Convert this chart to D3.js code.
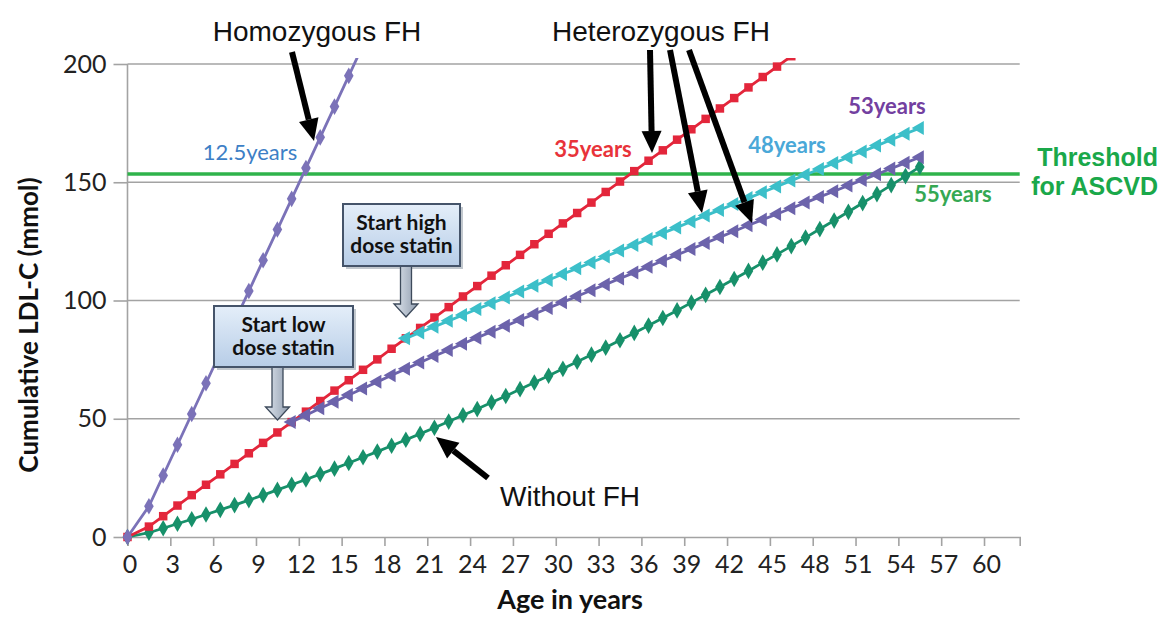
<!DOCTYPE html>
<html><head><meta charset="utf-8">
<script src="https://cdn.jsdelivr.net/npm/d3@7"></script>
<style>body{margin:0;background:#fff}</style>
</head><body>
<svg id="c" width="1160" height="618"></svg>
<script>
// ---------- data ----------
const xTickLabels = [0,3,6,9,12,15,18,21,24,27,30,33,36,39,42,45,48,51,54,57,60];
const yTickLabels = [0,50,100,150,200];
const threshold = 153.5;

// first year (category) of each series; one value per following year
const homoStart = 0;
const homoValues = [0,13,26,39,52,65,78,91,104,117,130,143,156,169,182,195,208];

const heteroStart = 0;
const heteroValues = [0,4.4,8.8,13.3,17.7,22.1,26.5,30.9,35.4,39.8,44.2,48.6,53.0,57.5,61.9,66.3,70.7,75.1,79.6,84.0,88.4,92.8,97.2,101.7,106.1,110.5,114.9,119.3,123.8,128.2,132.6,137.0,141.4,145.9,150.3,154.7,159.1,163.5,168.0,172.4,176.8,181.2,185.6,190.1,194.5,198.9,203.3];

const lowDoseStart = 11;
const lowDoseValues = [48.6,51.5,54.4,57.2,60.0,62.8,65.6,68.4,71.1,73.8,76.5,79.1,81.7,84.3,86.8,89.3,91.8,94.3,96.8,99.3,101.8,104.3,106.8,109.3,111.8,114.3,116.8,119.3,121.8,124.3,126.8,129.3,131.8,134.2,136.6,139.0,141.4,143.8,146.2,148.6,151.0,153.4,155.8,158.2,160.6];

const highDoseStart = 19;
const highDoseValues = [84.0,86.5,88.9,91.4,93.9,96.4,98.8,101.3,103.8,106.2,108.7,111.2,113.6,116.1,118.6,121.1,123.5,126.0,128.5,130.9,133.4,135.9,138.3,140.8,143.3,145.8,148.2,150.7,153.2,155.6,158.1,160.6,163.0,165.5,168.0,170.5,172.9];

const noFHStart = 0;
const noFHValues = [0,1.8,3.7,5.6,7.5,9.5,11.5,13.5,15.6,17.7,19.9,22.1,24.3,26.6,28.9,31.3,33.7,36.1,38.6,41.1,43.6,46.2,48.8,51.5,54.1,56.9,59.6,62.5,65.3,68.2,71.1,74.1,77.1,80.1,83.2,86.3,89.4,92.6,95.8,99.1,102.4,105.7,109.1,112.5,116.0,119.5,123.0,126.6,130.2,133.8,137.5,141.2,145.0,148.8,152.6,156.5];

// ---------- layout ----------
const svg = d3.select("#c");
const x = d3.scaleLinear().domain([0, 62.5]).range([127.5, 1019.7]);
const y = d3.scaleLinear().domain([0, 200]).range([537, 64]);
const tickFont = "Lato, 'Open Sans', sans-serif";
const arial = "'Liberation Sans', Arial, sans-serif";
const gridCol = "#a3a3a3";

// gridlines + y axis ticks
const gy = svg.append("g").attr("transform", `translate(${x(0)},0)`)
  .call(d3.axisLeft(y).tickValues(yTickLabels).tickSize(14).tickPadding(7));
gy.select(".domain").remove();
gy.selectAll(".tick line").attr("stroke", gridCol).attr("stroke-width", 1.6);
gy.selectAll(".tick text").attr("font-family", tickFont).attr("font-size", 25).attr("fill", "#222");
svg.append("g").selectAll("line").data(yTickLabels.filter(d => d > 0)).join("line")
  .attr("x1", x(0)).attr("x2", x(62.5)).attr("y1", d => y(d)).attr("y2", d => y(d))
  .attr("stroke", gridCol).attr("stroke-width", 1.6);
svg.append("line").attr("x1", x(0)).attr("x2", x(0)).attr("y1", y(200)).attr("y2", y(0))
  .attr("stroke", gridCol).attr("stroke-width", 1.6);

// x axis
const gx = svg.append("g").attr("transform", `translate(0,${y(0)})`)
  .call(d3.axisBottom(x).tickValues(xTickLabels).tickSize(9).tickPadding(9).tickFormat(d3.format("d")));
gx.select(".domain").attr("stroke", gridCol).attr("stroke-width", 1.6);
gx.selectAll(".tick line").attr("stroke", gridCol).attr("stroke-width", 1.6);
gx.selectAll(".tick text").attr("font-family", tickFont).attr("font-size", 25).attr("fill", "#222").attr("dx", 2);

// threshold line
svg.append("line").attr("x1", x(0)).attr("x2", x(62.5))
  .attr("y1", y(threshold)).attr("y2", y(threshold))
  .attr("stroke", "#2fb34b").attr("stroke-width", 3.5);

// clip
svg.append("clipPath").attr("id", "plotclip").append("rect")
  .attr("x", 115).attr("y", y(202.5)).attr("width", 920).attr("height", y(0) - y(202.5) + 12);
const plot = svg.append("g").attr("clip-path", "url(#plotclip)");

function series(start, values, color, symbol, size, rotate) {
  const pts = values.map((v, i) => [x(start + i + 0.5), y(v)]);
  if (start === 0) pts[0] = [x(0), y(values[0])];
  plot.append("path").attr("d", d3.line()(pts)).attr("fill", "none")
    .attr("stroke", color).attr("stroke-width", 2.8);
  plot.append("g").selectAll("path").data(pts).join("path")
    .attr("d", d3.symbol().type(symbol).size(size))
    .attr("transform", d => `translate(${d[0]},${d[1]}) rotate(${rotate})`)
    .attr("fill", color);
}
series(noFHStart, noFHValues, "#17906a", d3.symbolDiamond, 80, 0);
series(heteroStart, heteroValues, "#e3263b", d3.symbolSquare, 72, 0);
series(homoStart, homoValues, "#7b72b8", d3.symbolDiamond, 80, 0);
series(lowDoseStart, lowDoseValues, "#6c63ab", d3.symbolTriangle, 85, -90);
series(highDoseStart, highDoseValues, "#3cbfc9", d3.symbolTriangle, 85, -90);

// axis titles
svg.append("text").attr("x", 570).attr("y", 609).attr("text-anchor", "middle")
  .attr("font-family", tickFont).attr("font-weight", "bold").attr("font-size", 27).attr("fill", "#111")
  .text("Age in years");
svg.append("text").attr("transform", "translate(38,325) rotate(-90)").attr("text-anchor", "middle")
  .attr("font-family", tickFont).attr("font-weight", "bold").attr("font-size", 26).attr("fill", "#111")
  .text("Cumulative LDL-C (mmol)");

// top labels
svg.append("text").attr("x", 317).attr("y", 41).attr("text-anchor", "middle")
  .attr("font-family", arial).attr("font-size", 28).attr("fill", "#111").text("Homozygous FH");
svg.append("text").attr("x", 661).attr("y", 41).attr("text-anchor", "middle")
  .attr("font-family", arial).attr("font-size", 28).attr("fill", "#111").text("Heterozygous FH");
svg.append("text").attr("x", 570).attr("y", 506).attr("text-anchor", "middle")
  .attr("font-family", arial).attr("font-size", 28).attr("fill", "#111").text("Without FH");

// threshold label
[["Threshold", 166], ["for ASCVD", 195]].forEach(([t, yy]) =>
  svg.append("text").attr("x", 1158).attr("y", yy).attr("text-anchor", "end")
    .attr("font-family", arial).attr("font-weight", "bold").attr("font-size", 25)
    .attr("fill", "#1aa84a").text(t));

// year labels
const yearLabels = [
  ["12.5years", 250, 160, "#3d7fc6", "normal"],
  ["35years", 593, 157, "#e8333a", "bold"],
  ["48years", 787, 153, "#4aa8d8", "bold"],
  ["53years", 887, 114, "#7340a0", "bold"],
  ["55years", 953, 202, "#35a853", "bold"]
];
yearLabels.forEach(([t, xx, yy, c, w]) =>
  svg.append("text").attr("x", xx).attr("y", yy).attr("text-anchor", "middle")
    .attr("font-family", tickFont).attr("font-weight", w).attr("font-size", 22).attr("fill", c).text(t));

// black arrows
function arrow(x1, y1, x2, y2) {
  const a = Math.atan2(y2 - y1, x2 - x1), L = 22, W = 10;
  const bx = x2 - L * Math.cos(a), by = y2 - L * Math.sin(a);
  svg.append("line").attr("x1", x1).attr("y1", y1).attr("x2", bx).attr("y2", by)
    .attr("stroke", "#000").attr("stroke-width", 6);
  const px = -Math.sin(a) * W, py = Math.cos(a) * W;
  svg.append("path").attr("d", `M${x2},${y2}L${bx + px},${by + py}L${bx - px},${by - py}Z`).attr("fill", "#000");
}
arrow(292, 52, 314, 141);
arrow(650, 50, 652, 153);
arrow(670, 50, 702, 213);
arrow(689, 50, 752, 223);
arrow(488, 478, 436, 437);

// callout boxes
const defs = svg.append("defs");
const g1 = defs.append("linearGradient").attr("id", "boxg").attr("x1", 0).attr("x2", 0).attr("y1", 0).attr("y2", 1);
g1.append("stop").attr("offset", "0%").attr("stop-color", "#e4eef9");
g1.append("stop").attr("offset", "100%").attr("stop-color", "#b7cde7");
const g2 = defs.append("linearGradient").attr("id", "arrg").attr("x1", 0).attr("x2", 1).attr("y1", 0).attr("y2", 0);
g2.append("stop").attr("offset", "0%").attr("stop-color", "#dfe6ee");
g2.append("stop").attr("offset", "100%").attr("stop-color", "#8f9cae");

function callout(bx, by, bw, bh, lines, ax, tipY) {
  svg.append("rect").attr("x", bx + 3).attr("y", by + 3).attr("width", bw).attr("height", bh).attr("fill", "#9aa3ad").attr("opacity", 0.6);
  const ay = by + bh, hs = 5.5, hh = 12, headStart = tipY - 13;
  svg.append("path").attr("d",
    `M${ax - hs},${ay}L${ax + hs},${ay}L${ax + hs},${headStart}L${ax + hh},${headStart}L${ax},${tipY}L${ax - hh},${headStart}L${ax - hs},${headStart}Z`)
    .attr("fill", "url(#arrg)").attr("stroke", "#3d4a5b").attr("stroke-width", 1.3);
  svg.append("rect").attr("x", bx).attr("y", by).attr("width", bw).attr("height", bh)
    .attr("fill", "url(#boxg)").attr("stroke", "#45546a").attr("stroke-width", 2);
  lines.forEach((t, i) => svg.append("text").attr("x", bx + bw / 2).attr("y", by + 26 + i * 23)
    .attr("text-anchor", "middle").attr("font-family", tickFont).attr("font-weight", "bold")
    .attr("font-size", 21).attr("fill", "#111").text(t));
}
callout(343, 204, 117, 62, ["Start high", "dose statin"], 406, 317);
callout(214, 306, 139, 61, ["Start low", "dose statin"], 277.5, 420);
</script>
</body></html>
